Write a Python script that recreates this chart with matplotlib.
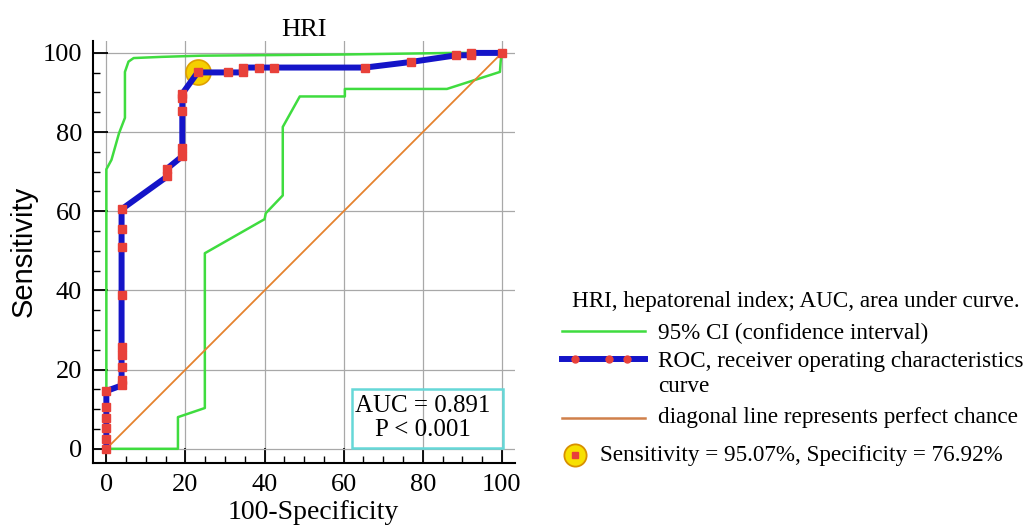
import matplotlib
matplotlib.use('Agg')
import matplotlib.pyplot as plt
from matplotlib.ticker import MultipleLocator
from matplotlib.lines import Line2D

# ROC points (100-Specificity, Sensitivity)
roc_x = [0, 0, 0, 0, 0, 0, 3.85, 3.85, 3.85, 3.85, 3.85, 3.85, 3.85, 3.85, 3.85,
         15.4, 15.4, 19.2, 19.2, 19.2, 19.2, 19.2, 23.08,
         30.8, 34.6, 34.6, 38.5, 42.3, 65.4, 76.9, 88.5, 92.3, 92.3, 100]
roc_y = [0, 2.6, 5.3, 7.9, 10.5, 14.6, 16.0, 17.5, 20.6, 23.6, 25.6, 38.8, 51.0, 55.6, 60.5,
         68.8, 70.8, 73.9, 76.0, 85.3, 88.6, 89.7, 95.07,
         95.07, 95.07, 96.3, 96.3, 96.3, 96.3, 97.7, 99.4, 99.4, 100, 100]

# 95% CI bounds
ci_hi_x = [0, 0, 1.3, 3.2, 4.7, 4.7, 5.6, 6.9, 14, 24, 60, 88, 100]
ci_hi_y = [0, 70.6, 73.0, 79.7, 83.6, 95.2, 97.8, 98.7, 99.0, 99.3, 99.6, 100, 100]
ci_lo_x = [0, 18.1, 18.1, 24.9, 24.9, 40.0, 40.3, 44.6, 44.6, 48.9, 60.3, 60.3, 86.1, 99.5, 99.7, 100]
ci_lo_y = [0, 0, 8.0, 10.3, 49.4, 58.0, 59.5, 64.0, 81.3, 89.0, 89.0, 90.9, 90.9, 95.2, 98.0, 100]

opt_x = 23.08
opt_y = 95.07
auc_text = 'AUC = 0.891\nP < 0.001'

green = '#3fdc3f'
blue = '#1414c8'
red = '#e8413a'
orange = '#e5822e'
serif = 'Liberation Serif'

fig = plt.figure(figsize=(10.32, 5.25), dpi=100)
ax = fig.add_axes([0.0904, 0.118, 0.4086, 0.8046])

ax.plot(ci_hi_x, ci_hi_y, color=green, lw=1.8, zorder=3)
ax.plot(ci_lo_x, ci_lo_y, color=green, lw=1.8, zorder=3)
ax.plot([0, 100], [0, 100], color=orange, lw=1.3, zorder=3)
ax.plot(opt_x, opt_y, 'o', ms=18, mfc='#f5cf00', mec='#e0a000', mew=1.2, zorder=4)
ax.plot(roc_x, roc_y, color=blue, lw=4.3, marker='s', ms=6, mfc=red, mec=red, zorder=5)

# AUC box
ax.add_patch(plt.Rectangle((62, 0.2), 38.3, 14.8, fill=False, ec='#66d8d8', lw=1.8, zorder=2))
ax.text(80, 7.8, auc_text, ha='center', va='center', fontsize=18, family=serif,
        linespacing=1.1, zorder=6)

ax.set_xlim(-3.3, 103.3)
ax.set_ylim(-3.6, 103.1)
ax.xaxis.set_major_locator(MultipleLocator(20))
ax.yaxis.set_major_locator(MultipleLocator(20))
ax.xaxis.set_minor_locator(MultipleLocator(5))
ax.yaxis.set_minor_locator(MultipleLocator(5))
ax.grid(True, which='major', color='#a8a8a8', lw=0.9, zorder=1)
ax.set_axisbelow(True)
for s in ['top', 'right']:
    ax.spines[s].set_visible(False)
for s in ['left', 'bottom']:
    ax.spines[s].set_linewidth(1.5)
ax.tick_params(which='major', direction='in', length=11, width=1.3, labelsize=19, pad=8)
ax.tick_params(which='minor', direction='in', length=5, width=1.0)
for lab in ax.get_xticklabels() + ax.get_yticklabels():
    lab.set_family(serif)

ax.set_title('HRI', fontsize=19, family=serif, pad=2)
ax.set_xlabel('100-Specificity', fontsize=20, family=serif)
ax.xaxis.set_label_coords(0.521, -0.088)
ax.xaxis.label.set_va('top')
ax.set_ylabel('Sensitivity', fontsize=21, family='Liberation Sans')
ax.yaxis.set_label_coords(-0.133, 0.5)

# legend block, drawn by hand
W, H = 1032, 525
def fx(px):
    return px / W
def fy(py):
    return 1 - py / H

lfs = 16.7
fig.text(fx(572), fy(302), 'HRI, hepatorenal index; AUC, area under curve.',
         fontsize=lfs, family=serif, va='center')
fig.add_artist(Line2D([fx(562), fx(645)], [fy(331), fy(331)], color=green, lw=1.8))
fig.text(fx(658), fy(333), '95% CI (confidence interval)', fontsize=lfs, family=serif, va='center')
fig.add_artist(Line2D([fx(562), fx(645)], [fy(359), fy(359)], color=blue, lw=4.3))
fig.add_artist(Line2D([fx(575), fx(609), fx(627)], [fy(359)] * 3, ls='none', marker='o',
                      ms=5, mfc=red, mec=red))
fig.text(fx(658), fy(361), 'ROC, receiver operating characteristics', fontsize=lfs,
         family=serif, va='center')
fig.text(fx(658), fy(387), 'curve', fontsize=lfs, family=serif, va='center')
fig.add_artist(Line2D([fx(562), fx(645)], [fy(418), fy(418)], color='#d0804a', lw=1.8))
fig.text(fx(658), fy(418), 'diagonal line represents perfect chance', fontsize=lfs,
         family=serif, va='center')
fig.add_artist(Line2D([fx(575)], [fy(455)], marker='o', ms=16, mfc='#f7e000', mec='#d89000',
                      mew=1.3))
fig.add_artist(Line2D([fx(575)], [fy(455)], marker='s', ms=5, mfc=red, mec=red))
fig.text(fx(600), fy(456), 'Sensitivity = 95.07%, Specificity = 76.92%', fontsize=lfs,
         family=serif, va='center')

fig.savefig('out.png', dpi=100)
